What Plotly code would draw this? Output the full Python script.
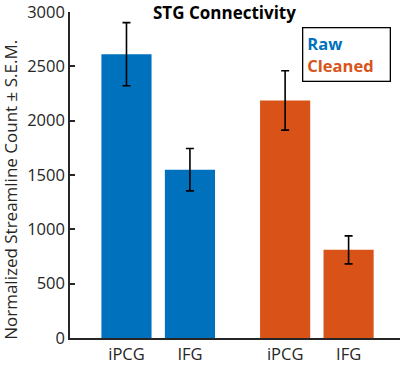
import plotly.graph_objects as go

categories = ["iPCG", "IFG", "iPCG", "IFG"]
positions = [1, 2, 3.5, 4.5]
raw_values = [2612, 1549]
raw_sem = [290, 195]
clean_values = [2186, 811]
clean_sem = [273, 129]

blue = "#0072BD"
orange = "#D95319"
font_family = "Open Sans, Lato, sans-serif"

W, H = 400, 365
L, T, B = 70, 10, 25

fig = go.Figure()
fig.add_trace(go.Bar(
    x=positions[:2], y=raw_values, width=0.79,
    marker=dict(color=blue, line=dict(width=0)),
    error_y=dict(type="data", array=raw_sem, color="black", thickness=1.6, width=4),
    showlegend=False,
))
fig.add_trace(go.Bar(
    x=positions[2:], y=clean_values, width=0.79,
    marker=dict(color=orange, line=dict(width=0)),
    error_y=dict(type="data", array=clean_sem, color="black", thickness=1.6, width=4),
    showlegend=False,
))

plot_h = H - T - B

def px_y(page_y):
    return (340 - page_y) / plot_h

def px_x(page_x):
    return (page_x - 70) / 330

fig.update_layout(
    width=W, height=H,
    margin=dict(l=L, r=0, t=T, b=B, pad=0),
    plot_bgcolor="white", paper_bgcolor="white",
    font=dict(family=font_family, size=16, color="#262626"),
    xaxis=dict(
        range=[0.11, 5.31], tickvals=positions, ticktext=categories,
        showline=True, linecolor="#262626", linewidth=1.5,
        ticks="", showgrid=False, zeroline=False,
        tickfont=dict(size=16.5, color="#262626"),
        ticklabeloverflow="allow",
    ),
    yaxis=dict(
        range=[0, 3000], tickvals=[0, 500, 1000, 1500, 2000, 2500, 3000],
        showline=True, linecolor="#262626", linewidth=1.5,
        ticks="inside", ticklen=5, tickcolor="#262626", tickwidth=1.5,
        showgrid=False, zeroline=False,
        tickfont=dict(size=16.5, color="#262626"),
        ticklabeloverflow="allow",
    ),
    annotations=[
        dict(text="<b>STG Connectivity</b>", x=px_x(224), y=px_y(10), xref="paper", yref="paper",
             xanchor="center", yanchor="middle",
             showarrow=False, font=dict(size=17, color="black")),
        dict(text="Normalized Streamline Count ± S.E.M.", x=px_x(11), y=px_y(190),
             xref="paper", yref="paper", xanchor="center", yanchor="middle",
             textangle=-90, showarrow=False, font=dict(size=17, color="#262626")),
        dict(text=f"<b><span style='color:{blue}'>Raw</span><br><span style='color:{orange}'>Cleaned</span></b>",
             xref="paper", yref="paper", x=px_x(302), y=px_y(25), xanchor="left", yanchor="top",
             align="left", showarrow=False, bordercolor="black", borderwidth=1.3,
             borderpad=4, bgcolor="white", font=dict(size=16.5), width=78),
    ],
)

fig.write_html("out.html", config={"displayModeBar": False},
               post_script="document.body.style.margin='0px';")
